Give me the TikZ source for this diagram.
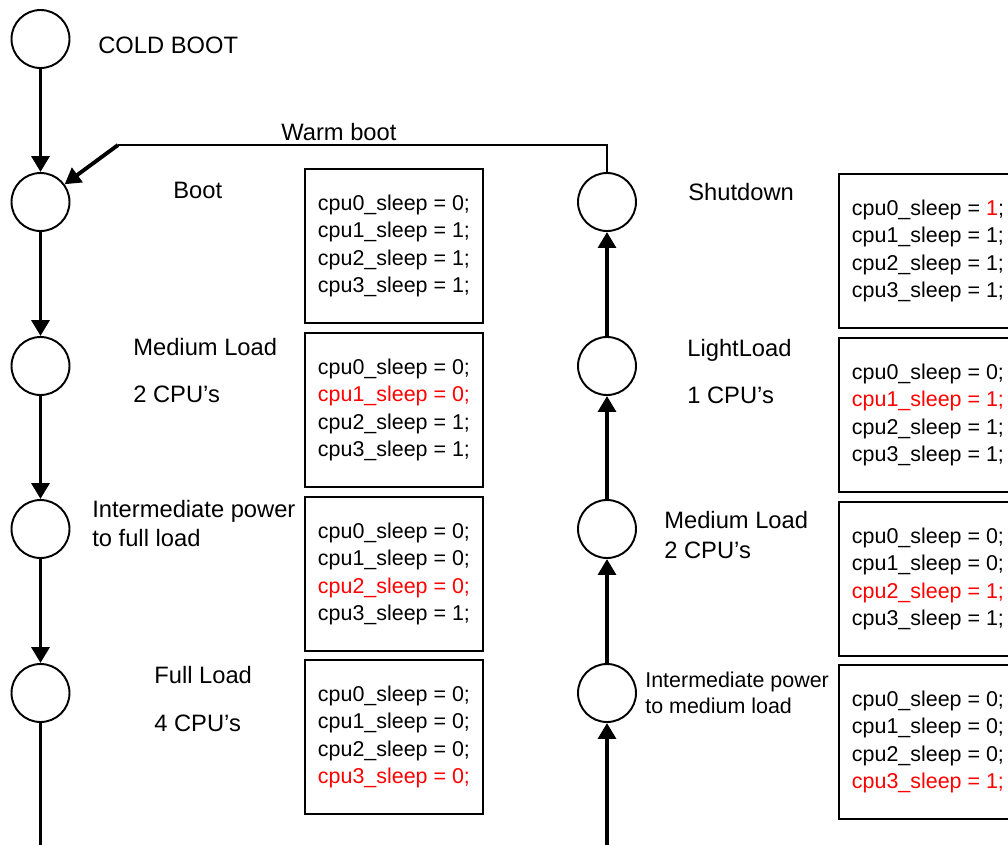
\documentclass[tikz,border=0pt]{standalone}
\usepackage{fontspec}
\setmainfont{Liberation Sans}
\usetikzlibrary{arrows.meta}

\begin{document}
\begin{tikzpicture}[x=0.2mm, y=-0.2mm, >={Triangle[length=9pt, width=10pt]}, line join=miter]
	
	% ================= 1. 样式 =================
	\tikzset{
		state/.style={circle, draw, line width=1.1pt, minimum size=11.6mm, inner sep=0pt},
		cpubox/.style={draw, line width=1.1pt, anchor=north west, minimum width=35.6mm, minimum height=30.8mm,
			align=left, font=\fontsize{12.2}{15.4}\selectfont},
		lbl/.style={anchor=base west, inner sep=0pt, font=\fontsize{13.5}{16.5}\selectfont},
		smalllbl/.style={lbl, font=\fontsize{12.2}{14.2}\selectfont},
		go/.style={->, line width=2.2pt},
		wire/.style={line width=1.2pt}
	}
	
	\useasboundingbox (0,0) rectangle (1008,845);
	\clip (0,0) rectangle (1008,845);
	
	% ================= 2. 状态圆 =================
	\node[state] (cold)   at (40.5,39)  {};
	\node[state] (boot)   at (40.5,202) {};
	\node[state] (med)    at (40.5,366) {};
	\node[state] (inter)  at (40.5,529) {};
	\node[state] (full)   at (40.5,693) {};
	
	\node[state] (shut)   at (607,202) {};
	\node[state] (light)  at (607,366) {};
	\node[state] (rmed)   at (607,529) {};
	\node[state] (rinter) at (607,693) {};
	
	\coordinate (lbot)  at (40.5,845);
	\coordinate (rbot)  at (607,845);
	\coordinate (wtop)  at (607,145);
	\coordinate (wbend) at (118,145);
	
	% ================= 3. 连线 =================
	\draw[go] (cold) -- (boot);
	\draw[go] (boot) -- (med);
	\draw[go] (med) -- (inter);
	\draw[go] (inter) -- (full);
	\draw[wire] (full) -- (lbot);
	
	\draw[go] (rbot) -- (rinter);
	\draw[go] (rinter) -- (rmed);
	\draw[go] (rmed) -- (light);
	\draw[go] (light) -- (shut);
	
	% 热启动回路
	\draw[wire] (shut) -- (wtop) -- (wbend);
	\draw[go] (wbend) -- (boot);
	\node[lbl] (t-warm) at (281,140) {Warm boot};
	
	% ================= 4. 状态标签 =================
	\node[lbl] (t-cold)   at (98,53)   {COLD BOOT};
	\node[lbl] (t-boot)   at (173,198) {Boot};
	\node[lbl] (t-med)    at (133,355) {Medium Load};
	\node[lbl] (t-med2)   at (133,402) {2 CPU’s};
	\node[lbl] (t-inter)  at (92,517)  {Intermediate power};
	\node[lbl] (t-inter2) at (92,546)  {to full load};
	\node[lbl] (t-full)   at (154,683) {Full Load};
	\node[lbl] (t-full2)  at (154,731) {4 CPU’s};
	
	\node[lbl] (t-shut)   at (688,200) {Shutdown};
	\node[lbl] (t-light)  at (687,356) {LightLoad};
	\node[lbl] (t-light2) at (687,403) {1 CPU’s};
	\node[lbl] (t-rmed)   at (664,528) {Medium Load};
	\node[lbl] (t-rmed2)  at (664,558) {2 CPU’s};
	\node[smalllbl] (t-rinter)  at (645,687) {Intermediate power};
	\node[smalllbl] (t-rinter2) at (645,713) {to medium load};
	
	% ================= 5. 寄存器框 =================
	\node[cpubox] (box-boot) at (304,168) {cpu0\_sleep = 0;\\cpu1\_sleep = 1;\\cpu2\_sleep = 1;\\cpu3\_sleep = 1;};
	\node[cpubox] (box-med) at (304,332) {cpu0\_sleep = 0;\\\textcolor{red}{cpu1\_sleep = 0;}\\cpu2\_sleep = 1;\\cpu3\_sleep = 1;};
	\node[cpubox] (box-inter) at (304,496) {cpu0\_sleep = 0;\\cpu1\_sleep = 0;\\\textcolor{red}{cpu2\_sleep = 0;}\\cpu3\_sleep = 1;};
	\node[cpubox] (box-full) at (304,659) {cpu0\_sleep = 0;\\cpu1\_sleep = 0;\\cpu2\_sleep = 0;\\\textcolor{red}{cpu3\_sleep = 0;}};
	
	\node[cpubox] (box-shut) at (838,173) {cpu0\_sleep = \textcolor{red}{1};\\cpu1\_sleep = 1;\\cpu2\_sleep = 1;\\cpu3\_sleep = 1;};
	\node[cpubox] (box-light) at (838,337) {cpu0\_sleep = 0;\\\textcolor{red}{cpu1\_sleep = 1;}\\cpu2\_sleep = 1;\\cpu3\_sleep = 1;};
	\node[cpubox] (box-rmed) at (838,501) {cpu0\_sleep = 0;\\cpu1\_sleep = 0;\\\textcolor{red}{cpu2\_sleep = 1;}\\cpu3\_sleep = 1;};
	\node[cpubox] (box-rinter) at (838,664) {cpu0\_sleep = 0;\\cpu1\_sleep = 0;\\cpu2\_sleep = 0;\\\textcolor{red}{cpu3\_sleep = 1;}};
	
\end{tikzpicture}
\end{document}
